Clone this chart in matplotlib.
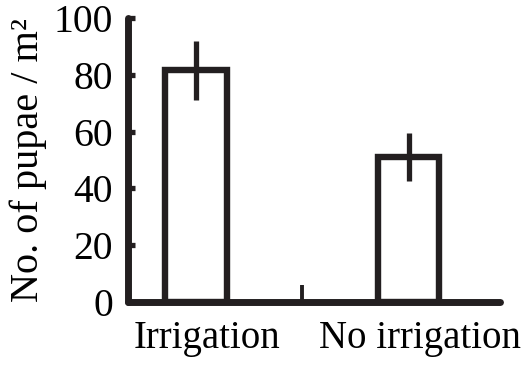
import matplotlib
matplotlib.use("Agg")
import matplotlib.pyplot as plt
import matplotlib.transforms as mtrans

categories = ["Irrigation", "No irrigation"]
means = [81.5, 51]
errors = [10.5, 8.5]
yticks = [0, 20, 40, 60, 80, 100]

plt.rcParams['font.family'] = ['Liberation Serif', 'DejaVu Serif']

fig = plt.figure(figsize=(5.23, 3.66), dpi=100)
ax = fig.add_axes([0.245, 0.175, 0.711, 0.776])

x = [0, 1]
ax.bar(x, means, width=0.29, color='white', edgecolor='#231f20', linewidth=4.6, zorder=2)
ax.errorbar(x, means, yerr=errors, fmt='none', ecolor='#231f20', elinewidth=3.8, capsize=0, zorder=3)

ax.set_xlim(-0.32, 1.43)
ax.set_ylim(0, 100)
ax.set_yticks(yticks)
ax.set_xticks(x)
ax.set_xticklabels(categories)
ax.set_xticks([0.5], minor=True)

for s in ['top', 'right']:
    ax.spines[s].set_visible(False)
for s in ['left', 'bottom']:
    ax.spines[s].set_linewidth(5)
    ax.spines[s].set_color('#231f20')
    ax.spines[s].set_capstyle('round')

ax.tick_params(axis='y', direction='in', length=5, width=3.8, color='#231f20', labelsize=28.5, pad=11)
ax.tick_params(axis='x', which='major', length=0, labelsize=28, pad=13)
ax.tick_params(axis='x', which='minor', direction='in', length=12, width=2.8, color='#231f20')

offset = mtrans.ScaledTranslation(11/100, 0, fig.dpi_scale_trans)
for lbl in ax.get_xticklabels():
    lbl.set_transform(lbl.get_transform() + offset)

ax.set_ylabel("No. of pupae / m\u00b2", fontsize=29, labelpad=5)

fig.savefig("out.png", dpi=100)
